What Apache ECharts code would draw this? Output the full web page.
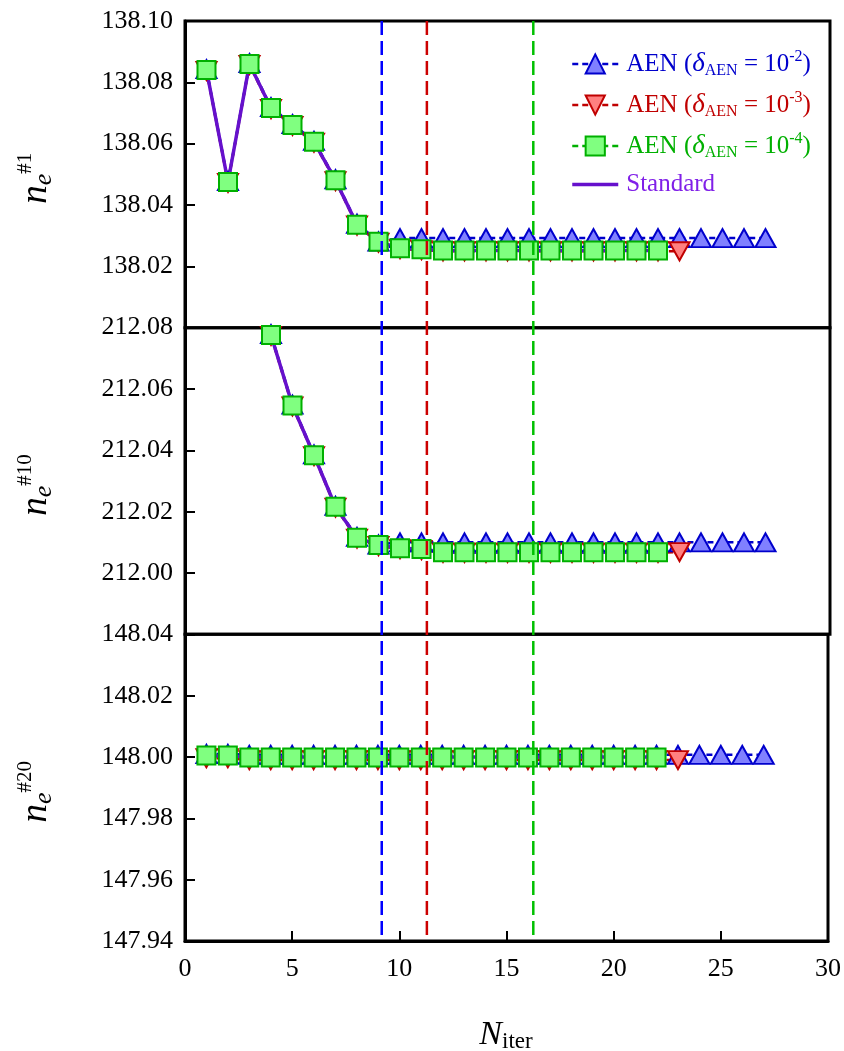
<!DOCTYPE html>
<html>
<head>
<meta charset="utf-8">
<script src="https://cdn.jsdelivr.net/npm/echarts@6/dist/echarts.min.js"></script>
<style>
  html, body { margin: 0; padding: 0; background: #fff; }
  #chart { width: 844px; height: 1051px; }
</style>
</head>
<body>
<div id="chart"></div>
<script>
// Iteration numbers on the horizontal axis
const iterations = [1, 2, 3, 4, 5, 6, 7, 8, 9, 10, 11, 12, 13, 14, 15, 16, 17, 18, 19, 20, 21, 22, 23, 24, 25, 26, 27];
const xTickValues = [0, 5, 10, 15, 20, 25, 30];

// Iteration at which each AEN tolerance stops (vertical dashed markers)
const stopIterations = [9.15, 11.25, 16.2];

// Panel 1: n_e^#1
const p1Standard = [138.0840, 138.0475, 138.0860, 138.0716, 138.0661, 138.0606, 138.0481, 138.0336, 138.0280, 138.0259, 138.0256, 138.0252, 138.0252, 138.0252, 138.0252, 138.0252, 138.0252, 138.0252, 138.0252, 138.0252, 138.0252, 138.0252];
const p1Delta2 = [138.0843, 138.0478, 138.0863, 138.0719, 138.0664, 138.0609, 138.0484, 138.0339, 138.0281, 138.0292, 138.0292, 138.0292, 138.0292, 138.0292, 138.0292, 138.0292, 138.0292, 138.0292, 138.0292, 138.0292, 138.0292, 138.0292, 138.0292, 138.0292, 138.0292, 138.0292, 138.0292];
const p1Delta3 = [138.0837, 138.0472, 138.0857, 138.0713, 138.0658, 138.0603, 138.0478, 138.0333, 138.0277, 138.0256, 138.0253, 138.0249, 138.0249, 138.0249, 138.0249, 138.0249, 138.0249, 138.0249, 138.0249, 138.0249, 138.0249, 138.0249, 138.0249];
const p1Delta4 = [138.0840, 138.0475, 138.0860, 138.0716, 138.0661, 138.0606, 138.0481, 138.0336, 138.0280, 138.0259, 138.0256, 138.0252, 138.0252, 138.0252, 138.0252, 138.0252, 138.0252, 138.0252, 138.0252, 138.0252, 138.0252, 138.0252];

// Panel 2: n_e^#10
const p2Standard = [212.1200, 212.1000, 212.0920, 212.0776, 212.0546, 212.0384, 212.0216, 212.0115, 212.0091, 212.0081, 212.0078, 212.0068, 212.0068, 212.0068, 212.0068, 212.0068, 212.0068, 212.0068, 212.0068, 212.0068, 212.0068, 212.0068];
const p2Delta2 = [212.1203, 212.1003, 212.0923, 212.0779, 212.0549, 212.0387, 212.0219, 212.0118, 212.0093, 212.0100, 212.0100, 212.0100, 212.0100, 212.0100, 212.0100, 212.0100, 212.0100, 212.0100, 212.0100, 212.0100, 212.0100, 212.0100, 212.0100, 212.0100, 212.0100, 212.0100, 212.0100];
const p2Delta3 = [212.1197, 212.0997, 212.0917, 212.0773, 212.0543, 212.0381, 212.0213, 212.0112, 212.0088, 212.0078, 212.0075, 212.0066, 212.0066, 212.0066, 212.0066, 212.0066, 212.0066, 212.0066, 212.0066, 212.0066, 212.0066, 212.0066, 212.0068];
const p2Delta4 = [212.1200, 212.1000, 212.0920, 212.0776, 212.0546, 212.0384, 212.0216, 212.0115, 212.0091, 212.0081, 212.0078, 212.0068, 212.0068, 212.0068, 212.0068, 212.0068, 212.0068, 212.0068, 212.0068, 212.0068, 212.0068, 212.0068];

// Panel 3: n_e^#20
const p3Standard = [148.0003, 148.0003, 148.0000, 148.0000, 148.0000, 148.0000, 148.0000, 148.0000, 148.0000, 148.0000, 148.0000, 148.0000, 148.0000, 148.0000, 148.0000, 148.0000, 148.0000, 148.0000, 148.0000, 148.0000, 148.0000, 148.0000];
const p3Delta2 = [148.0010, 148.0010, 148.0007, 148.0007, 148.0007, 148.0007, 148.0007, 148.0007, 148.0007, 148.0007, 148.0007, 148.0007, 148.0007, 148.0007, 148.0007, 148.0007, 148.0007, 148.0007, 148.0007, 148.0007, 148.0007, 148.0007, 148.0007, 148.0007, 148.0007, 148.0007, 148.0007];
const p3Delta3 = [147.9996, 147.9996, 147.9990, 147.9990, 147.9990, 147.9990, 147.9990, 147.9990, 147.9990, 147.9990, 147.9990, 147.9990, 147.9990, 147.9990, 147.9990, 147.9990, 147.9990, 147.9990, 147.9990, 147.9990, 147.9990, 147.9990, 147.9990];
const p3Delta4 = [148.0005, 148.0005, 147.9998, 147.9998, 147.9998, 147.9998, 147.9998, 147.9998, 147.9998, 147.9998, 147.9998, 147.9998, 147.9998, 147.9998, 147.9998, 147.9998, 147.9998, 147.9998, 147.9998, 147.9998, 147.9998, 147.9998];

// Vertical range of each panel and its tick step
const panelRanges = [[138.00, 138.10], [211.98, 212.08], [147.94, 148.04]];
const yTickStep = 0.02;
const panelTitles = ['#1', '#10', '#20'];

const FONT = '"Liberation Serif", "Times New Roman", serif';
const BLUE = '#0000CC', RED = '#C00000', GREEN = '#00B000', PURPLE = '#6610CC';

const layout = { left: 185, width: 645, top: 21, panelH: 306.67 };

const seriesStyles = {
  AEN2: { symbol: 'triangle', size: [20, 18], rotate: 0, fill: '#8080FF', stroke: BLUE, line: BLUE },
  AEN3: { symbol: 'triangle', size: [20, 18], rotate: 180, fill: '#FF8080', stroke: RED, line: RED },
  AEN4: { symbol: 'rect', size: [18, 18], rotate: 0, fill: '#80FF80', stroke: GREEN, line: GREEN }
};
const dashConnector = [6, 4];

const panels = [
  { std: p1Standard, AEN2: p1Delta2, AEN3: p1Delta3, AEN4: p1Delta4 },
  { std: p2Standard, AEN2: p2Delta2, AEN3: p2Delta3, AEN4: p2Delta4 },
  { std: p3Standard, AEN2: p3Delta2, AEN3: p3Delta3, AEN4: p3Delta4 }
];

function pairs(values) {
  return values.map((v, i) => [iterations[i], v]);
}

const grids = [], xAxes = [], yAxes = [], series = [];

panels.forEach((p, i) => {
  grids.push({
    left: layout.left, width: layout.width,
    top: layout.top + i * layout.panelH, height: layout.panelH,
    show: true, borderColor: '#000', borderWidth: 3, backgroundColor: 'transparent'
  });
  const isBottom = i === panels.length - 1;
  xAxes.push({
    gridIndex: i, type: 'value', min: xTickValues[0], max: xTickValues[xTickValues.length - 1], interval: 5,
    show: isBottom,
    axisLine: { lineStyle: { color: '#000', width: 3 } },
    axisTick: { inside: true, length: 10, lineStyle: { color: '#000', width: 2 } },
    axisLabel: { fontFamily: FONT, fontSize: 26, color: '#000', margin: 15 },
    splitLine: { show: false }
  });
  const [ymin, ymax] = panelRanges[i];
  yAxes.push({
    gridIndex: i, type: 'value', min: ymin, max: ymax, interval: yTickStep,
    axisLine: { show: true, lineStyle: { color: '#000', width: 3 } },
    axisTick: { show: true, inside: true, length: 10, lineStyle: { color: '#000', width: 2 } },
    axisLabel: {
      fontFamily: FONT, fontSize: 26, color: '#000', margin: 12,
      formatter: v => (!isBottom && Math.abs(v - ymin) < 1e-6) ? '' : v.toFixed(2)
    },
    splitLine: { show: false }
  });

  // dashed connectors underneath everything
  ['AEN2', 'AEN3', 'AEN4'].forEach(key => {
    const s = seriesStyles[key];
    series.push({
      name: key + ' path', type: 'line', xAxisIndex: i, yAxisIndex: i,
      data: pairs(p[key]), symbol: 'none', clip: true, silent: true,
      lineStyle: { color: s.line, width: 2.5, type: dashConnector },
      z: 2
    });
  });
  // reference solution line
  series.push({
    name: 'Standard', type: 'line', xAxisIndex: i, yAxisIndex: i,
    data: pairs(p.std), symbol: 'none', clip: true,
    lineStyle: { color: PURPLE, width: 3.5 }, itemStyle: { color: PURPLE },
    z: 3
  });
  // markers on top
  ['AEN2', 'AEN3', 'AEN4'].forEach(key => {
    const s = seriesStyles[key];
    series.push({
      name: key, type: 'line', xAxisIndex: i, yAxisIndex: i,
      data: pairs(p[key]), clip: true,
      symbol: s.symbol, symbolSize: s.size, symbolRotate: s.rotate,
      lineStyle: { width: 0, opacity: 0 },
      itemStyle: { color: s.fill, borderColor: s.stroke, borderWidth: 2 },
      z: 4
    });
  });
});

// Full-height overlay for the stop-iteration markers
grids.push({ left: layout.left, width: layout.width, top: layout.top, height: layout.panelH * 3, show: false });
xAxes.push({ gridIndex: 3, type: 'value', min: 0, max: 30, show: false });
yAxes.push({ gridIndex: 3, type: 'value', min: 0, max: 1, show: false });
const stopColors = ['#0000FF', '#CC0000', '#00C000'];
stopIterations.forEach((x, k) => {
  series.push({
    name: 'stop' + k, type: 'line', xAxisIndex: 3, yAxisIndex: 3,
    data: [[x, 1], [x, 0.004]], symbol: 'none', silent: true,
    lineStyle: { color: stopColors[k], width: 2.5, type: [14, 6] },
    z: 10
  });
});

const legendLabels = {
  AEN2: { c: 'b', exp: '-2' },
  AEN3: { c: 'r', exp: '-3' },
  AEN4: { c: 'g', exp: '-4' }
};
const rich = {};
[['b', BLUE], ['r', RED], ['g', GREEN]].forEach(([c, col]) => {
  rich[c + 't'] = { color: col, fontFamily: FONT, fontSize: 25, lineHeight: 30 };
  rich[c + 'd'] = { color: col, fontFamily: FONT, fontSize: 27, fontStyle: 'italic', lineHeight: 30 };
  rich[c + 's'] = { color: col, fontFamily: FONT, fontSize: 16, lineHeight: 14, verticalAlign: 'bottom' };
  rich[c + 'p'] = { color: col, fontFamily: FONT, fontSize: 16, lineHeight: 16, verticalAlign: 'top' };
});
rich.pt = { color: '#8020E8', fontFamily: FONT, fontSize: 25, lineHeight: 30 };

const legendItems = ['AEN2', 'AEN3', 'AEN4'].map(key => {
  const s = seriesStyles[key];
  return {
    name: key,
    lineStyle: { color: s.line, width: 2.5, type: dashConnector, opacity: 1 },
    itemStyle: { color: s.fill, borderColor: s.stroke, borderWidth: 2 }
  };
});
legendItems.push({ name: 'Standard', icon: 'path://M0,0 L44,0 L44,3.5 L0,3.5 Z', itemStyle: { color: PURPLE } });

const yTitleRich = {
  n: { fontFamily: FONT, fontSize: 37, fontStyle: 'italic', lineHeight: 42, color: '#000' },
  e: { fontFamily: FONT, fontSize: 26, fontStyle: 'italic', lineHeight: 16, verticalAlign: 'bottom', color: '#000' },
  s: { fontFamily: FONT, fontSize: 21, lineHeight: 12, verticalAlign: 'top', color: '#000' }
};

const graphics = panelTitles.map((t, i) => ({
  type: 'text',
  x: 36, y: layout.top + (i + 0.5) * layout.panelH + 4,
  rotation: Math.PI / 2,
  style: {
    text: '{n|n}{e|e}{s|' + t + '}',
    rich: yTitleRich, align: 'center', verticalAlign: 'middle'
  }
}));
graphics.push({
  type: 'text', x: 506, y: 1035,
  style: {
    text: '{N|N}{i|iter}',
    rich: {
      N: { fontFamily: FONT, fontSize: 34, fontStyle: 'italic', lineHeight: 36, color: '#000' },
      i: { fontFamily: FONT, fontSize: 23, lineHeight: 22, verticalAlign: 'bottom', color: '#000' }
    },
    align: 'center', verticalAlign: 'middle'
  }
});

const chart = echarts.init(document.getElementById('chart'), null, { renderer: 'canvas' });
chart.setOption({
  animation: false,
  backgroundColor: '#fff',
  grid: grids,
  xAxis: xAxes,
  yAxis: yAxes,
  legend: {
    orient: 'vertical', left: 566, top: 44,
    itemWidth: 46, itemHeight: 24, itemGap: 11,
    data: legendItems,
    textStyle: { fontFamily: FONT, fontSize: 25, padding: [0, 0, 0, 3], rich: rich },
    formatter: name => {
      if (name === 'Standard') return '{pt|Standard}';
      const l = legendLabels[name];
      const c = l.c;
      return '{' + c + 't|AEN (}{' + c + 'd|δ}{' + c + 's|AEN}{' + c + 't| = 10}{' + c + 'p|' + l.exp + '}{' + c + 't|)}';
    },
    selectedMode: false
  },
  graphic: graphics,
  series: series
});
</script>
</body>
</html>
